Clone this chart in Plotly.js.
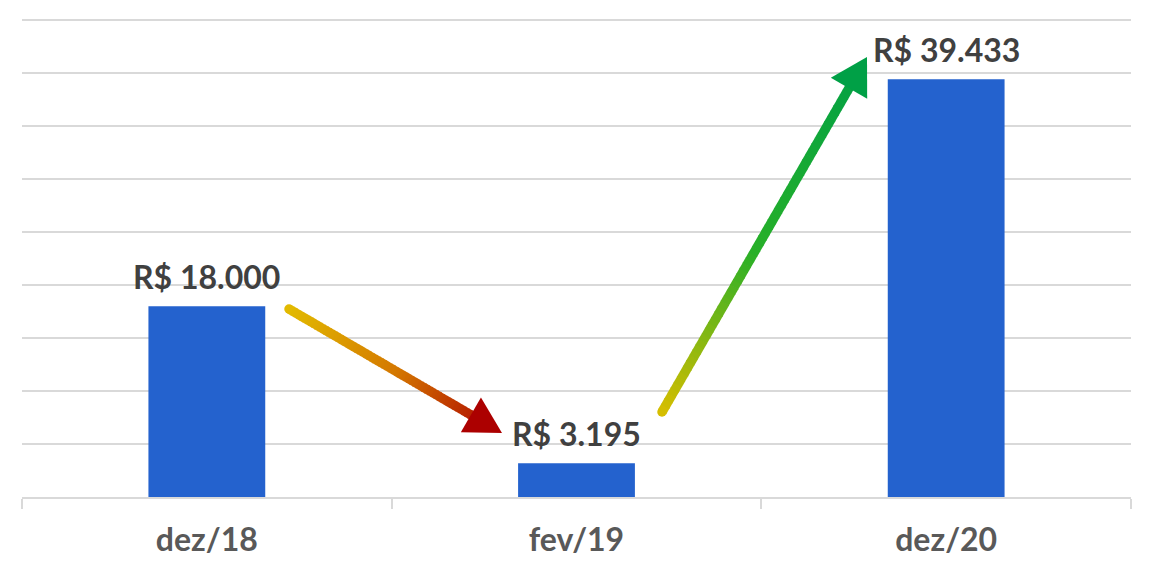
<!DOCTYPE html>
<html>
<head>
<meta charset="utf-8">
<script src="https://cdn.plot.ly/plotly-3.0.1.min.js"></script>
<style>
  html, body { margin: 0; padding: 0; background: #ffffff; }
  #chart { width: 1149px; height: 574px; }
</style>
</head>
<body>
<div id="chart"></div>
<script>
// ---- data ----
const categories = ["dez/18", "fev/19", "dez/20"];
const values = [18000, 3195, 39433];
const valueLabels = ["R$ 18.000", "R$ 3.195", "R$ 39.433"];

// ---- styling ----
const W = 1149, H = 574;
const margin = { l: 22, r: 18, t: 17, b: 77 };
const plotW = W - margin.l - margin.r;
const plotH = H - margin.t - margin.b;
const barColor = "#2462CE";
const gridColor = "#D9D9D9";

// pixel -> paper coordinates (decorations only)
function P(px, py) {
  return [(px - margin.l) / plotW, (H - margin.b - py) / plotH];
}
function hex(c) { return c.toString(16).padStart(2, "0"); }
function lerpColor(stops, t) {
  for (let i = 0; i < stops.length - 1; i++) {
    const [p0, c0] = stops[i], [p1, c1] = stops[i + 1];
    if (t >= p0 && t <= p1) {
      const f = (t - p0) / (p1 - p0 || 1);
      const c = c0.map((v, k) => Math.round(v + (c1[k] - v) * f));
      return "#" + c.map(hex).join("");
    }
  }
  const c = stops[stops.length - 1][1];
  return "#" + c.map(hex).join("");
}
// Gradient arrow built from layout shapes (decorative)
function arrowShapes(tail, tip, headLen, headHalf, width, stops) {
  const shapes = [];
  const dx = tip[0] - tail[0], dy = tip[1] - tail[1];
  const len = Math.hypot(dx, dy);
  const ux = dx / len, uy = dy / len;
  const nx = -uy, ny = ux;
  const base = [tip[0] - ux * headLen, tip[1] - uy * headLen];
  const shaftLen = len - headLen + 2;
  const N = 60;
  const r = width / 2;
  const c0 = P(tail[0] - r, tail[1] - r), c1 = P(tail[0] + r, tail[1] + r);
  shapes.push({ type: "circle", xref: "paper", yref: "paper",
    x0: c0[0], x1: c1[0], y0: c1[1], y1: c0[1],
    fillcolor: lerpColor(stops, 0), line: { width: 0 }, layer: "above" });
  for (let i = 0; i < N; i++) {
    const a = (i / N) * shaftLen, b = ((i + 1) / N) * shaftLen + 0.8;
    const p0 = P(tail[0] + ux * a, tail[1] + uy * a);
    const p1 = P(tail[0] + ux * Math.min(b, shaftLen), tail[1] + uy * Math.min(b, shaftLen));
    const t = ((i + 0.5) / N) * (shaftLen / len);
    shapes.push({ type: "line", xref: "paper", yref: "paper",
      x0: p0[0], y0: p0[1], x1: p1[0], y1: p1[1],
      line: { color: lerpColor(stops, t), width: width }, layer: "above" });
  }
  const v1 = P(base[0] + nx * headHalf, base[1] + ny * headHalf);
  const v2 = P(base[0] - nx * headHalf, base[1] - ny * headHalf);
  const vt = P(tip[0], tip[1]);
  shapes.push({ type: "path", xref: "paper", yref: "paper",
    path: `M ${v1[0]} ${v1[1]} L ${vt[0]} ${vt[1]} L ${v2[0]} ${v2[1]} Z`,
    fillcolor: lerpColor(stops, 1), line: { width: 0 }, layer: "above" });
  return shapes;
}

const downStops = [[0, [226, 186, 0]], [0.5, [212, 120, 0]], [1, [172, 0, 0]]];
const upStops = [[0, [214, 190, 0]], [0.45, [40, 176, 40]], [1, [0, 160, 70]]];

const shapes = []
  .concat(arrowShapes([289, 309], [502, 433], 36, 20, 9.5, downStops))
  .concat(arrowShapes([662, 412], [867, 57], 36, 21, 9.5, upStops));

const labelFont = { family: "Lato, 'Open Sans', sans-serif", size: 32, color: "#404040", weight: 700 };

const annotations = categories.map((c, i) => ({
  x: c, y: values[i], xref: "x", yref: "y",
  text: valueLabels[i], showarrow: false,
  yanchor: "bottom", xanchor: "center", yshift: 8,
  font: labelFont
}));

const trace = {
  type: "bar",
  x: categories,
  y: values,
  marker: { color: barColor, line: { width: 0 } },
  width: 0.316,
  hoverinfo: "skip"
};

const layout = {
  width: W, height: H,
  margin: margin,
  paper_bgcolor: "#ffffff",
  plot_bgcolor: "#ffffff",
  showlegend: false,
  xaxis: {
    type: "category",
    tickson: "boundaries",
    ticks: "outside",
    ticklen: 10,
    tickwidth: 2,
    tickcolor: gridColor,
    showline: true,
    linecolor: gridColor,
    linewidth: 2,
    showgrid: false,
    tickfont: { family: "Lato, 'Open Sans', sans-serif", size: 32, color: "#595959", weight: 700 },
    ticklabelstandoff: 14
  },
  yaxis: {
    range: [0, 45300],
    dtick: 5000,
    tick0: 0,
    showticklabels: false,
    showgrid: true,
    gridcolor: gridColor,
    gridwidth: 2,
    zeroline: false,
    ticks: ""
  },
  shapes: shapes,
  annotations: annotations
};

Plotly.newPlot("chart", [trace], layout, { displayModeBar: false, staticPlot: true });
</script>
</body>
</html>
